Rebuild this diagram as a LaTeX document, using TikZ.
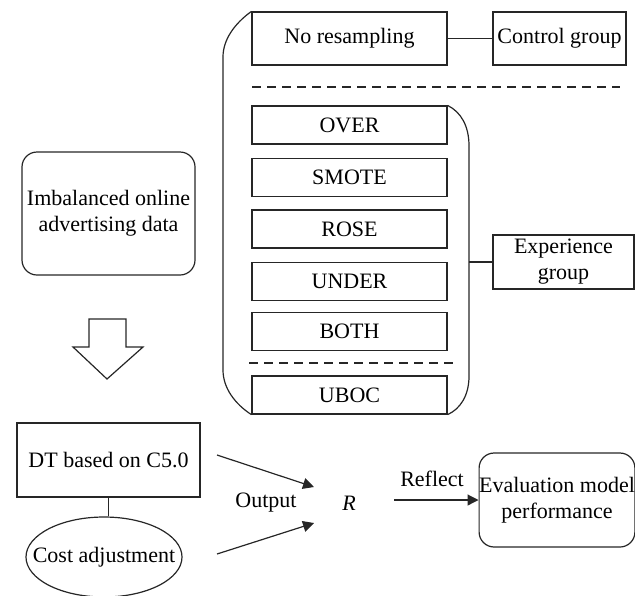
\documentclass[tikz,border=0pt]{standalone}
\usepackage{fontspec}
\setmainfont{Liberation Serif}
\usetikzlibrary{shapes.geometric,arrows.meta}
\begin{document}
\begin{tikzpicture}[x=0.5pt,y=-0.5pt,
  every node/.style={font=\fontsize{11}{13}\selectfont, inner sep=0pt},
  line/.style={line width=0.6pt, draw=black!85},
  box/.style={line, rectangle, draw=black!85},
  rbox/.style={box, rounded corners=7.5pt},
  mbox/.style={box, minimum width=97.5pt, minimum height=19pt},
  dash line/.style={line, dash pattern=on 4.5pt off 3pt},
  arr/.style={line, -{Triangle[length=5.5pt,width=5.5pt]}}]
\useasboundingbox (0,0) rectangle (635,595);

% top group
\node[box, minimum width=97.5pt, minimum height=26.5pt] (nores) at (349.5,38.5) {No resampling};
\node[box, minimum width=66.5pt, minimum height=26.5pt] (ctrl) at (559.5,38.5) {Control group};
\draw[line] (nores.east) -- (ctrl.west);
\coordinate (d1a) at (252,87);
\coordinate (d1b) at (620,87);
\draw[dash line] (d1a) -- (d1b);

\node[mbox] (over) at (349.5,125) {OVER};
\node[mbox] (smote) at (349.5,177.5) {SMOTE};
\node[mbox] (rose) at (349.5,229) {ROSE};
\node[mbox] (under) at (349.5,281.5) {UNDER};
\node[mbox] (both) at (349.5,331.5) {BOTH};
\coordinate (d2a) at (249,363);
\coordinate (d2b) at (455,363);
\draw[dash line] (d2a) -- (d2b);
\node[mbox] (uboc) at (349.5,395) {UBOC};

% left big bracket
\draw[line] (nores.north west) .. controls (234,24) and (223,40) .. (223,57)
  -- (223,370) .. controls (223,388) and (235,404) .. (uboc.south west);
% right bracket
\draw[line] (over.north east) .. controls (461,112) and (469,126) .. (469,146)
  -- (469,376) .. controls (469,396) and (460,409) .. (uboc.south east);
\coordinate (rb) at (469,262);
\node[box, minimum width=70.5pt, minimum height=27pt, align=center] (exp) at (563.5,262) {Experience\\group};
\draw[line] (rb) -- (exp.west);

% left side
\node[rbox, minimum width=86.5pt, minimum height=61.5pt, align=center] (imb) at (108.5,213.5) {Imbalanced online\\advertising data};
\draw[line] (89,319) -- (126,319) -- (126,347) -- (143,347) -- (107,379) -- (73,347) -- (89,347) -- cycle;

\node[box, minimum width=91.5pt, minimum height=37pt] (dt) at (108.5,460) {DT based on C5.0};
\node[line, draw=black!85, ellipse, inner xsep=-10pt, inner ysep=0pt, minimum width=78pt, minimum height=40pt] (cost) at (104,557) {Cost adjustment};
\draw[line] (dt.south) -- (cost.north -| dt.south);

\node (out) at (266,503) {Output};
\node (r) at (349,503) {\itshape R};
\coordinate (a1s) at (217,455);
\coordinate (a1e) at (314,487);
\coordinate (a2s) at (217,554);
\coordinate (a2e) at (314,523);
\draw[arr] (a1s) -- (a1e);
\draw[arr] (a2s) -- (a2e);

\node[rbox, minimum width=77pt, minimum height=47pt, align=center] (eval) at (557,500) {Evaluation model\\performance};
\coordinate (rfs) at (394,500);
\draw[arr] (rfs) -- (eval.west);
\node (refl) at (432,479) {Reflect};
\end{tikzpicture}
\end{document}
